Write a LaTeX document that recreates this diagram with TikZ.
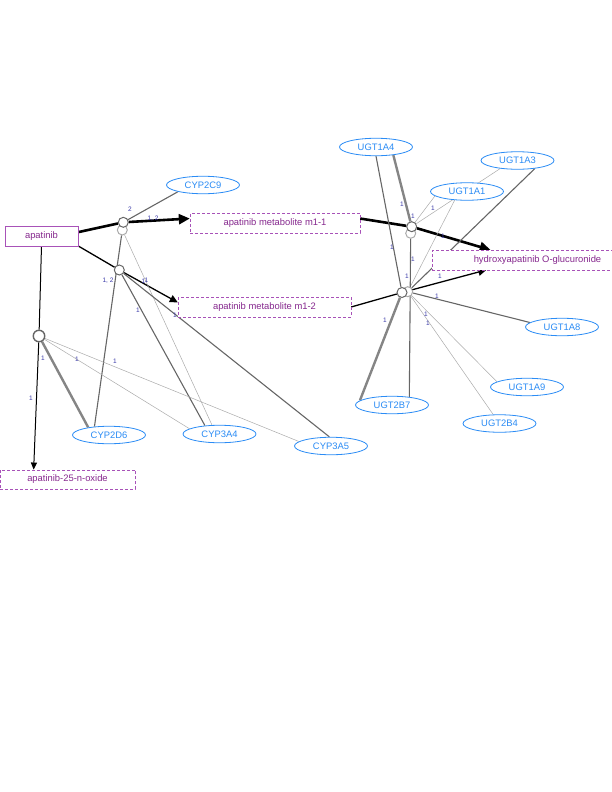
\documentclass[tikz,border=0pt]{standalone}
\usepackage{fontspec}
\setmainfont{Liberation Sans}
\usetikzlibrary{arrows.meta,shapes.geometric,backgrounds,calc}
\definecolor{cP}{HTML}{A852B8}
\definecolor{cT}{HTML}{86288E}
\definecolor{cB}{HTML}{2B8CF5}
\definecolor{cL}{HTML}{3A3AA8}
\definecolor{cG}{HTML}{666666}
\definecolor{cH}{HTML}{AAAAAA}
\tikzset{
  spc/.style={rectangle,draw=cP,fill=white,text=cT,inner sep=0pt,
              minimum height=19.5pt,font=\fontsize{9.4}{10}\selectfont},
  spcd/.style={spc,dash pattern=on 3pt off 2pt},
  enz/.style={ellipse,draw=cB,text=cB,fill=white,line width=0.8pt,inner sep=0pt,
              minimum width=73pt,minimum height=17.5pt,font=\fontsize{9.4}{10}\selectfont},
  rxn/.style={circle,draw=cG,fill=white,line width=1pt,inner sep=0pt,minimum size=10pt},
  rxnb/.style={rxn,draw=cH},
  lbl/.style={text=cL,inner sep=0pt,font=\fontsize{6.5}{7}\selectfont},
  thk/.style={line width=2.4pt,draw=cG!80},
  med/.style={line width=1.1pt,draw=cG},
  thn/.style={line width=0.5pt,draw=cH},
  flowA/.style={-{Triangle[length=11pt,width=10pt]},line width=2.6pt,black},
  flowB/.style={-{Triangle[length=8pt,width=7.5pt]},line width=1.3pt,black},
  flowC/.style={-{Triangle[length=7pt,width=6pt]},line width=1pt,black},
}

\begin{document}
\begin{tikzpicture}[x=1pt,y=-1pt]
  \useasboundingbox (0,0) rectangle (612,792);
  % species
  \node[spc,minimum width=73pt](apa) at (41.5,236){apatinib};
  \node[spcd,minimum width=170pt](m11) at (275,223){apatinib metabolite m1-1};
  \node[spcd,minimum width=173pt](m12) at (264.5,307){apatinib metabolite m1-2};
  \node[spcd,minimum width=211pt](hyd) at (537.5,260){hydroxyapatinib O-glucuronide};
  \node[spcd,minimum width=135pt](oxi) at (67.5,479.5){apatinib-25-n-oxide};
  % enzymes
  \node[enz](c2c9) at (203,185){CYP2C9};
  \node[enz](c2d6) at (109,435){CYP2D6};
  \node[enz](c3a4) at (219.5,434){CYP3A4};
  \node[enz](c3a5) at (331,446){CYP3A5};
  \node[enz](u1a4) at (376,147){UGT1A4};
  \node[enz](u1a3) at (517.5,160.5){UGT1A3};
  \node[enz](u1a1) at (467,191.5){UGT1A1};
  \node[enz](u1a8) at (562,327){UGT1A8};
  \node[enz](u1a9) at (527,387){UGT1A9};
  \node[enz](u2b7) at (392,405){UGT2B7};
  \node[enz](u2b4) at (499.5,423.5){UGT2B4};
  % reactions
  \node[rxnb](r1b) at (122.3,230){};
  \node[rxn](r1a) at (123.3,222.3){};
  \node[rxn](r2) at (119.3,270){};
  \node[rxn,minimum size=11.5pt,line width=1.4pt](r3) at (39,336){};
  \node[rxnb](r4b) at (410.7,233.3){};
  \node[rxn](r4a) at (411.7,226.7){};
  \node[rxnb](r5b) at (407.7,291.7){};
  \node[rxn](r5a) at (402,292.5){};
  \begin{scope}[on background layer]
    \draw[flowA](apa.6)--(r1a)--(m11.177);
    \draw[flowB](apa.south east)--(r2)--(m12.177);
    \draw[flowC](apa.south)--(r3)--($(oxi.north west)!.25!(oxi.north east)$);
    \draw[flowA](m11.3)--(r4a)--(hyd.168);
    \draw[flowB](m12.east)--(r5a)--(hyd.191);
    % enzyme links
    \draw[med](c2c9.195)--(r1a);
    \draw[med](c2d6.150)--(r1b);
    \draw[thn](c3a4.130)--(r1b);
    \draw[med](c3a4.150)--(r2);
    \draw[med](c3a5.100)--(r2);
    \draw[thk](c2d6.160)--(r3);
    \draw[thn](c3a4.170)--(r3);
    \draw[thn](c3a5.172)--(r3);
    \draw[thk](u1a4.-25)--(r4a);
    \draw[med](u1a4.south)--(r5a);
    \draw[thn](u1a1.188)--(r4a);
    \draw[thn](u1a1.215)--(r5b);
    \draw[thn](u1a3.205)--(r4a);
    \draw[med](u1a3.-25)--(r5b);
    \draw[med](u2b7.25)--(r4b);
    \draw[thk](u2b7.172)--(r5a);
    \draw[med](u1a8.172)--(r5b);
    \draw[thn](u1a9.170)--(r5b);
    \draw[thn](u2b4.125)--(r5b);
  \end{scope}
  % stoichiometry labels
  \foreach \x/\y/\t [count=\i] in {130/209/2,153/219/{1, 2},108/281/{1, 2},
      143.5/281/1,146.5/280/1,138/310/1,175/315/1,43/358/1,77/359/1,115/361/1,
      31/398/1,433/208/1,413/216/1,402/204/1,443/236/1,392/247/1,413/259/1,
      407/276/1,440/276/1,437/296/1,385/320/1,426/314/1,428/323/1}
    \node[lbl](e\i) at (\x,\y){\t};
\end{tikzpicture}
\end{document}
